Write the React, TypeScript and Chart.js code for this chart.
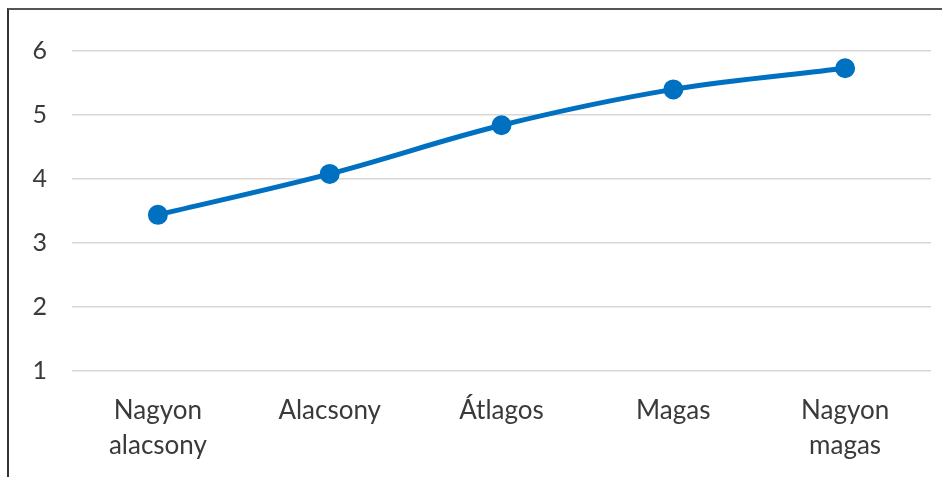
import React, { useEffect, useRef } from "react";
import { Chart, registerables } from "chart.js";

Chart.register(...registerables);

const categories: string[][] = [
  ["Nagyon", "alacsony"],
  ["Alacsony"],
  ["Átlagos"],
  ["Magas"],
  ["Nagyon", "magas"],
];
const values: number[] = [3.44, 4.08, 4.84, 5.4, 5.73];
const yTicks: number[] = [1, 2, 3, 4, 5, 6];

export default function App() {
  const ref = useRef<HTMLCanvasElement | null>(null);

  useEffect(() => {
    document.documentElement.style.overflow = "hidden";
    document.body.style.overflow = "hidden";
    if (!ref.current) return;
    const chart = new Chart(ref.current, {
      type: "line",
      data: {
        labels: categories,
        datasets: [
          {
            data: values,
            borderColor: "#0070C0",
            backgroundColor: "#0070C0",
            borderWidth: 5,
            tension: 0.35,
            pointRadius: 9,
            pointBorderWidth: 2,
            pointBorderColor: "#0070C0",
            pointBackgroundColor: "#0070C0",
          },
        ],
      },
      options: {
        animation: false,
        responsive: false,
        maintainAspectRatio: false,
        layout: { padding: { left: 0, right: 5, top: 41, bottom: 0 } },
        plugins: { legend: { display: false }, tooltip: { enabled: false }, title: { display: false } },
        scales: {
          x: {
            offset: true,
            grid: { display: false, drawTicks: false },
            border: { display: false },
            ticks: {
              color: "#3a3a3a",
              padding: 22,
              maxRotation: 0,
              font: { family: "Lato", size: 26, lineHeight: 1.35 },
            },
            afterFit: (s: any) => {
              s.height = 106;
              s.paddingLeft = 0;
              s.paddingRight = 0;
            },
          },
          y: {
            min: 1,
            max: 6,
            afterBuildTicks: (s: any) => {
              s.ticks = yTicks.map((v) => ({ value: v }));
            },
            grid: { color: "#dcd6d6", lineWidth: 1.5, drawTicks: false },
            border: { display: false },
            ticks: {
              color: "#3a3a3a",
              padding: 25,
              font: { family: "Lato", size: 25 },
            },
            afterFit: (s: any) => {
              s.width = 63;
            },
          },
        },
      },
    });
    return () => chart.destroy();
  }, []);

  return (
    <div
      style={{
        position: "fixed",
        left: 7,
        top: 8,
        width: 933,
        height: 467,
        borderTop: "2px solid #555",
        borderLeft: "2px solid #333",
        background: "#fff",
        overflow: "hidden",
      }}
    >
      <canvas ref={ref} width={933} height={467} style={{ display: "block" }} />
    </div>
  );
}
